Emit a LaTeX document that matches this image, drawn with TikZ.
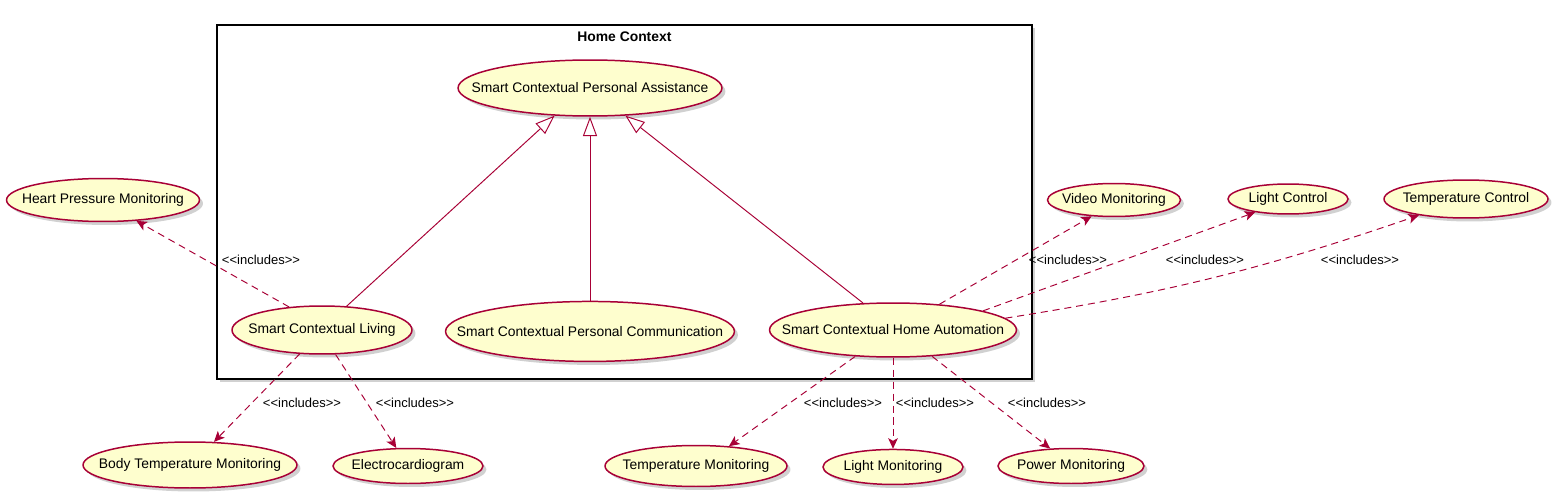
\documentclass[tikz,border=0pt]{standalone}
\usepackage{fontspec}
\setmainfont{Liberation Sans}
\usetikzlibrary{positioning,arrows.meta,shapes.geometric,shadows}
\definecolor{UmlRed}{RGB}{168,0,54}
\definecolor{UmlCream}{RGB}{254,254,206}
\newcommand{\inclabel}{<\kern0pt<includes>\kern0pt>}
\tikzset{
  usecase/.style={ellipse,draw=UmlRed,fill=UmlCream,line width=0.85pt,inner sep=-4cm,
    font=\fontsize{7.9}{9}\selectfont,
    drop shadow={shadow xshift=0.07cm,shadow yshift=-0.07cm,opacity=0.3,fill=black!60}},
  ctxbox/.style={draw=black,fill=white,line width=1.1pt,inner sep=0pt,
    drop shadow={shadow xshift=0.07cm,shadow yshift=-0.07cm,opacity=0.3,fill=black!60}},
  incl/.style={-{Stealth[length=6pt,width=5.5pt,inset=1.5pt]},draw=UmlRed,line width=0.55pt,
    dash pattern=on 4pt off 2.8pt},
  gen/.style={-{Triangle[open,length=11pt,width=8pt,fill=white]},draw=UmlRed,
    line width=0.55pt},
  lbl/.style={font=\fontsize{7.4}{9}\selectfont,inner sep=0pt}
}

\begin{document}
\begin{tikzpicture}[x=0.02cm,y=-0.02cm]
  \useasboundingbox (0,0) rectangle (1559,500);
  % frame
  \node[ctxbox,anchor=north west,minimum width=16.3cm,minimum height=7.08cm] (home) at (216,24) {};
  \node[font=\fontsize{7.9}{9}\selectfont\bfseries,inner sep=0pt,below=0.14cm of home.north] (homet) {Home Context};
  % use cases inside
  \node[usecase,minimum width=5.28cm,minimum height=1.12cm] (scpa) at (590,88) {Smart Contextual Personal Assistance};
  \node[usecase,minimum width=3.6cm,minimum height=0.96cm] (scl) at (322,330) {Smart Contextual Living};
  \node[usecase,minimum width=5.78cm,minimum height=1.2cm,below=3.68cm of scpa] (scpc) {Smart Contextual Personal Communication};
  \node[usecase,minimum width=4.94cm,minimum height=1.08cm] (scha) at (893,330) {Smart Contextual Home Automation};
  % use cases outside
  \node[usecase,minimum width=3.86cm,minimum height=0.86cm] (hpm) at (103,200) {Heart Pressure Monitoring};
  \node[usecase,minimum width=2.66cm,minimum height=0.66cm] (video) at (1114,200) {Video Monitoring};
  \node[usecase,minimum width=2.4cm,minimum height=0.6cm] (lc) at (1288,199) {Light Control};
  \node[usecase,minimum width=3.28cm,minimum height=0.76cm] (tc) at (1466,199) {Temperature Control};
  \node[usecase,minimum width=4.28cm,minimum height=0.92cm] (btm) at (190,465) {Body Temperature Monitoring};
  \node[usecase,minimum width=3.0cm,minimum height=0.7cm] (ecg) at (408,466) {Electrocardiogram};
  \node[usecase,minimum width=3.64cm,minimum height=0.82cm] (tm) at (696,466) {Temperature Monitoring};
  \node[usecase,minimum width=2.8cm,minimum height=0.7cm,below=1.82cm of scha] (lm) {Light Monitoring};
  \node[usecase,minimum width=2.92cm,minimum height=0.7cm] (pm) at (1071,466) {Power Monitoring};
  % generalization
  \draw[gen] (scl.44) -- (scpa.218);
  \draw[gen] (scpc) -- (scpa);
  \draw[gen] (scha.138) -- (scpa.322);
  % includes
  \draw[incl] (scl.145) -- (hpm.-32);
  \draw[incl] (scl.227) -- (btm.44);
  \draw[incl] (scl.-61) -- (ecg.123);
  \draw[incl] (scha.29) -- (video.216);
  \draw[incl] (scha.12) -- (lc.202);
  \draw[incl] (scha.6) to[bend right=5] (tc.199);
  \draw[incl] (scha.215) -- (tm.31);
  \draw[incl] (scha) -- (lm);
  \draw[incl] (scha.-34) -- (pm.140);
  % labels
  \node[lbl] (lhpm) at (261,260) {\inclabel};
  \node[lbl] (lbtm) at (302,403) {\inclabel};
  \node[lbl] (lecg) at (415,403) {\inclabel};
  \node[lbl] (lvideo) at (1068,260) {\inclabel};
  \node[lbl] (llc) at (1205,260) {\inclabel};
  \node[lbl] (ltc) at (1360,260) {\inclabel};
  \node[lbl] (ltm) at (843,403) {\inclabel};
  \node[lbl] (llm) at (935,403) {\inclabel};
  \node[lbl] (lpm) at (1047,403) {\inclabel};
\end{tikzpicture}
\end{document}
